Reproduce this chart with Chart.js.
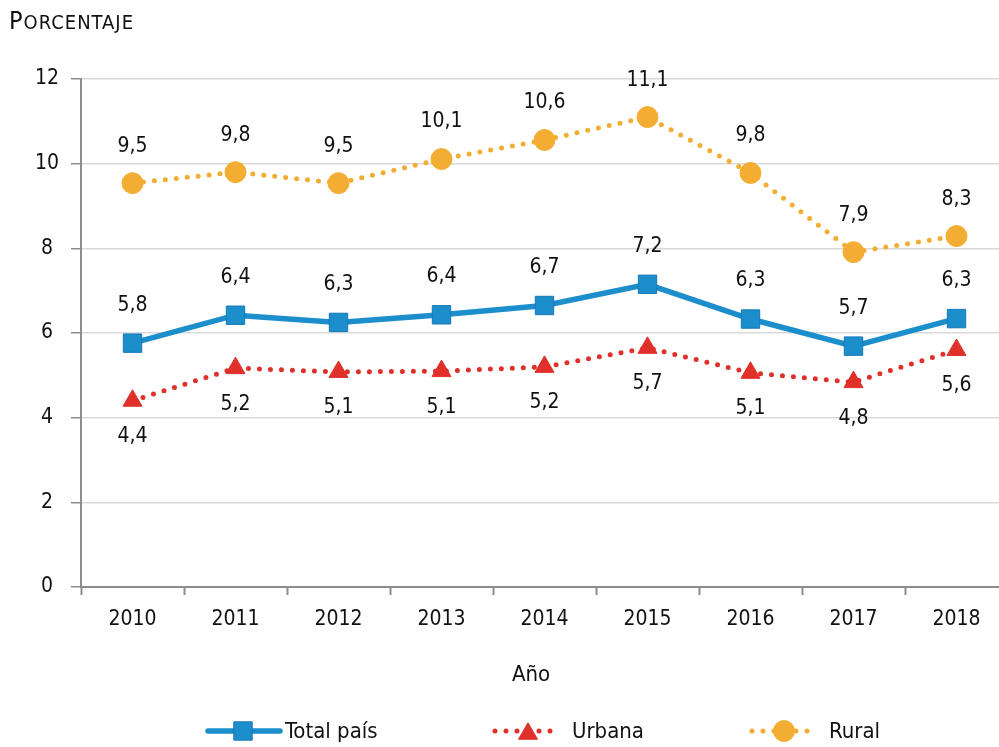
<!DOCTYPE html>
<html>
<head>
<meta charset="utf-8">
<script src="https://cdn.jsdelivr.net/npm/chart.js@4.4.1/dist/chart.umd.min.js"></script>
<style>
html,body{margin:0;padding:0;background:#fff;overflow:hidden;width:999px;height:747px;}
#wrap{position:absolute;left:0;top:0;width:1022px;height:747px;}
#c{display:block;width:1022px;height:747px;}
</style>
</head>
<body>
<div id="wrap"><canvas id="c" width="1022" height="747"></canvas></div>
<script>
const years = ['2010','2011','2012','2013','2014','2015','2016','2017','2018'];
const totalPais = [5.76, 6.42, 6.25, 6.43, 6.65, 7.15, 6.33, 5.69, 6.34];
const urbana = [4.40, 5.17, 5.08, 5.10, 5.20, 5.65, 5.06, 4.84, 5.60];
const rural = [9.54, 9.80, 9.54, 10.11, 10.56, 11.10, 9.78, 7.91, 8.29];
const yTicks = [0, 2, 4, 6, 8, 10, 12];
const seriesNames = ['Total país', 'Urbana', 'Rural'];
const yTitle = 'Porcentaje';
const xTitle = 'Año';

const FONT = '"DejaVu Sans Condensed", "DejaVu Sans", sans-serif';
const BLUE = '#1b8ecb', BLUE_D = '#1878b8', RED = '#e0302a', ORANGE = '#f3ad32';

function fmt(v){ return v.toFixed(1).replace('.', ','); }

const labelsPlugin = {
  id: 'labelsPlugin',
  afterDatasetsDraw(chart){
    const ctx = chart.ctx;
    ctx.save();
    ctx.font = '21px ' + FONT;
    ctx.fillStyle = '#111';
    ctx.textAlign = 'center';
    ctx.textBaseline = 'middle';
    const offs = [-38, 36, -37];
    chart.data.datasets.forEach((ds, di) => {
      const meta = chart.getDatasetMeta(di);
      meta.data.forEach((pt, i) => {
        ctx.fillText(fmt(ds.data[i]), pt.x, pt.y + offs[di]);
      });
    });
    ctx.restore();
  },
  afterDraw(chart){
    const ctx = chart.ctx;
    ctx.save();
    ctx.fillStyle = '#111';
    ctx.textBaseline = 'alphabetic';
    ctx.textAlign = 'left';
    const t = yTitle.toUpperCase();
    try { ctx.letterSpacing = '1px'; } catch(e) {}
    ctx.font = '25px ' + FONT;
    ctx.fillText(t[0], 9, 29);
    const w0 = ctx.measureText(t[0]).width;
    ctx.font = '20px ' + FONT;
    ctx.fillText(t.slice(1), 9 + w0, 29);
    try { ctx.letterSpacing = '0px'; } catch(e) {}
    ctx.font = '22px ' + FONT;
    ctx.textAlign = 'center';
    ctx.textBaseline = 'middle';
    ctx.fillText(xTitle, 531, 675);
    const ly = 731;
    const items = [
      {x0:208, x1:280, mx:243, text:285, ds:0},
      {x0:495, x1:561, mx:528, text:572, ds:1},
      {x0:752, x1:816, mx:784, text:829, ds:2}
    ];
    items.forEach(it => {
      const ds = chart.data.datasets[it.ds];
      ctx.save();
      ctx.strokeStyle = ds.borderColor;
      ctx.lineWidth = ds.borderWidth;
      ctx.lineCap = 'round';
      ctx.setLineDash(ds.borderDash || []);
      ctx.beginPath();
      ctx.moveTo(it.x0, ly);
      ctx.lineTo(it.x1, ly);
      ctx.stroke();
      ctx.restore();
      ctx.save();
      ctx.fillStyle = ds.pointBackgroundColor;
      ctx.strokeStyle = ds.pointBorderColor;
      ctx.lineWidth = ds.pointBorderWidth || 1;
      ctx.setLineDash([]);
      ctx.beginPath();
      if (ds.pointStyle === 'rect') {
        const s = Math.SQRT1_2 * ds.pointRadius;
        ctx.rect(it.mx - s, ly - s, 2*s, 2*s);
      } else if (ds.pointStyle === 'triangle') {
        const r = ds.pointRadius;
        const cy = ly + r * 0.25;
        let rad = 0;
        ctx.moveTo(it.mx + Math.sin(rad)*r, cy - Math.cos(rad)*r);
        rad += 2*Math.PI/3;
        ctx.lineTo(it.mx + Math.sin(rad)*r, cy - Math.cos(rad)*r);
        rad += 2*Math.PI/3;
        ctx.lineTo(it.mx + Math.sin(rad)*r, cy - Math.cos(rad)*r);
        ctx.closePath();
      } else {
        ctx.arc(it.mx, ly, ds.pointRadius, 0, Math.PI*2);
      }
      ctx.fill();
      ctx.stroke();
      ctx.restore();
      ctx.fillStyle = '#111';
      ctx.font = '22px ' + FONT;
      ctx.textAlign = 'left';
      ctx.textBaseline = 'middle';
      ctx.fillText(seriesNames[it.ds], it.text, ly + 1);
    });
    ctx.restore();
  }
};

new Chart(document.getElementById('c'), {
  type: 'line',
  data: {
    labels: years,
    datasets: [
      {
        label: seriesNames[0], data: totalPais,
        borderColor: BLUE, borderWidth: 5.5,
        pointStyle: 'rect', pointRadius: 13, pointHoverRadius: 13,
        pointBackgroundColor: BLUE, pointBorderColor: BLUE_D, pointBorderWidth: 1,
        tension: 0, order: 2
      },
      {
        label: seriesNames[1], data: urbana,
        borderColor: RED, borderWidth: 5, borderDash: [0, 11], borderCapStyle: 'round',
        pointStyle: 'triangle', pointRadius: 11, pointHoverRadius: 11,
        pointBackgroundColor: RED, pointBorderColor: RED, pointBorderWidth: 1,
        tension: 0, order: 1
      },
      {
        label: seriesNames[2], data: rural,
        borderColor: ORANGE, borderWidth: 5, borderDash: [0, 11], borderCapStyle: 'round',
        pointStyle: 'circle', pointRadius: 10.5, pointHoverRadius: 10.5,
        pointBackgroundColor: ORANGE, pointBorderColor: ORANGE, pointBorderWidth: 1,
        tension: 0, order: 0
      }
    ]
  },
  options: {
    responsive: false,
    animation: false,
    events: [],
    layout: { padding: { top: 79, right: 4, left: 0, bottom: 0 } },
    plugins: { legend: { display: false }, tooltip: { enabled: false }, title: { display: false } },
    scales: {
      x: {
        type: 'category',
        offset: true,
        grid: { display: true, drawOnChartArea: false, drawTicks: true, tickLength: 8, color: '#8c8c8c', tickColor: '#8c8c8c', tickWidth: 2, offset: true },
        border: { display: true, color: '#8c8c8c', width: 2 },
        ticks: { font: { family: FONT, size: 21 }, color: '#111', padding: 12, maxRotation: 0 },
        afterFit(s){ s.height = 160; }
      },
      y: {
        min: 0, max: 12,
        afterBuildTicks(s){ s.ticks = yTicks.map(v => ({ value: v })); },
        grid: { color: '#d9d9d9', lineWidth: 1.5, tickColor: '#8c8c8c', tickLength: 10, drawTicks: true },
        border: { display: true, color: '#8c8c8c', width: 2 },
        ticks: { font: { family: FONT, size: 21 }, color: '#111', padding: 12, crossAlign: 'center' },
        afterFit(s){ s.width = 81; }
      }
    }
  },
  plugins: [labelsPlugin]
});
</script>
</body>
</html>
